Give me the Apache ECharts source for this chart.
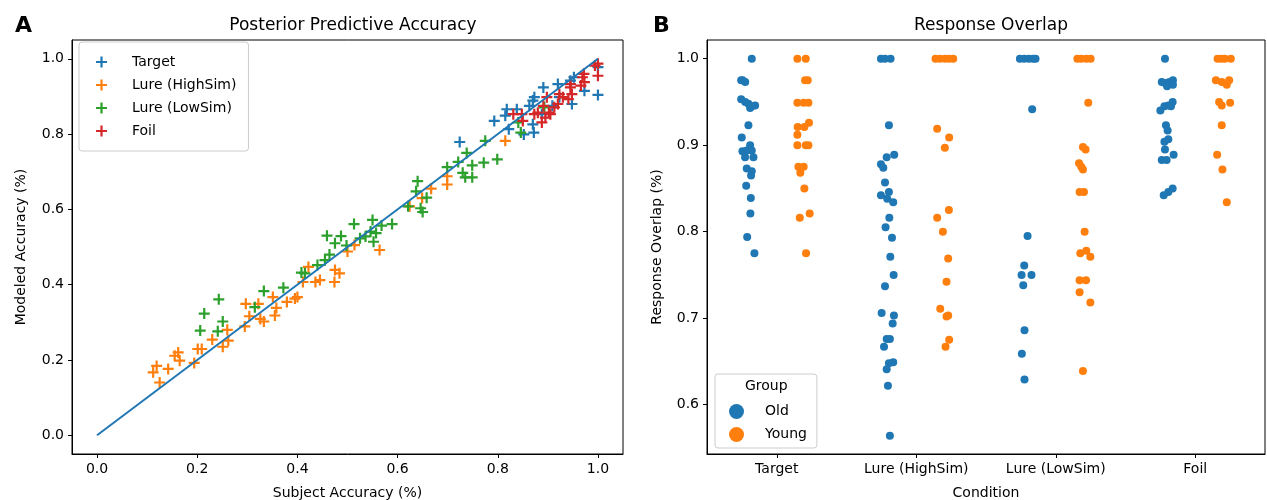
<!DOCTYPE html>
<html>
<head>
<meta charset="utf-8">
<script src="https://cdn.jsdelivr.net/npm/echarts@6/dist/echarts.min.js"></script>
<style>
  html, body { margin: 0; padding: 0; background: #fff; }
  #main { width: 1267px; height: 500px; }
</style>
</head>
<body>
<div id="main"></div>
<script>
  // panel A: [subject accuracy, modeled accuracy]
  const targetPts = [
    [0.724, 0.779], [0.793, 0.835], [0.818, 0.866], [0.815, 0.849], [0.822, 0.813],
    [0.838, 0.866], [0.852, 0.799], [0.872, 0.804], [0.870, 0.826], [0.863, 0.875],
    [0.870, 0.889], [0.873, 0.898], [0.891, 0.924], [0.920, 0.933], [0.909, 0.875],
    [0.923, 0.898], [0.945, 0.942], [0.948, 0.880], [0.952, 0.951], [0.973, 0.915],
    [1.0, 0.904], [1.0, 0.978], [0.888, 0.853]
  ];
  const lureHighPts = [
    [0.112, 0.167], [0.119, 0.184], [0.125, 0.140], [0.142, 0.176], [0.155, 0.211],
    [0.162, 0.220], [0.165, 0.198], [0.194, 0.192], [0.201, 0.229], [0.209, 0.229],
    [0.230, 0.254], [0.251, 0.235], [0.262, 0.251], [0.260, 0.280], [0.295, 0.289],
    [0.297, 0.349], [0.304, 0.316], [0.322, 0.349], [0.326, 0.309], [0.333, 0.302],
    [0.355, 0.318], [0.358, 0.338], [0.351, 0.367], [0.379, 0.354], [0.395, 0.363],
    [0.400, 0.367], [0.411, 0.407], [0.422, 0.447], [0.436, 0.407], [0.445, 0.412],
    [0.474, 0.407], [0.475, 0.439], [0.484, 0.430], [0.500, 0.488], [0.514, 0.505],
    [0.564, 0.492], [0.624, 0.608], [0.649, 0.630], [0.667, 0.655], [0.699, 0.688],
    [0.699, 0.666], [0.815, 0.782]
  ];
  const lureLowPts = [
    [0.206, 0.278], [0.214, 0.323], [0.243, 0.361], [0.241, 0.276], [0.251, 0.302],
    [0.315, 0.340], [0.333, 0.383], [0.372, 0.392], [0.408, 0.432], [0.415, 0.430],
    [0.440, 0.452], [0.455, 0.465], [0.464, 0.480], [0.459, 0.530], [0.475, 0.510],
    [0.487, 0.529], [0.498, 0.504], [0.513, 0.561], [0.525, 0.523], [0.536, 0.528],
    [0.546, 0.541], [0.550, 0.572], [0.552, 0.514], [0.557, 0.537], [0.568, 0.557],
    [0.589, 0.561], [0.621, 0.608], [0.637, 0.648], [0.640, 0.675], [0.646, 0.603],
    [0.650, 0.593], [0.658, 0.631], [0.699, 0.712], [0.721, 0.726], [0.738, 0.750],
    [0.730, 0.697], [0.735, 0.685], [0.749, 0.685], [0.749, 0.717], [0.772, 0.724],
    [0.775, 0.782], [0.799, 0.733], [0.846, 0.804], [0.841, 0.831], [0.893, 0.871]
  ];
  const foilPts = [
    [0.831, 0.853], [0.848, 0.853], [0.850, 0.835], [0.873, 0.853], [0.880, 0.857],
    [0.888, 0.831], [0.895, 0.844], [0.902, 0.857], [0.898, 0.898], [0.905, 0.853],
    [0.920, 0.880], [0.923, 0.906], [0.930, 0.898], [0.945, 0.924], [0.945, 0.933],
    [0.948, 0.906], [0.941, 0.893], [0.969, 0.951], [0.973, 0.938], [0.972, 0.960],
    [0.966, 0.929], [0.994, 0.982], [1.0, 0.955], [1.0, 0.987], [0.913, 0.871],
    [0.891, 0.875]
  ];
  const identityLine = [[0, 0], [1, 1]];
  const accTicks = [0, 0.2, 0.4, 0.6, 0.8, 1.0];

  // panel B: [offset from category centre, response overlap]
  const conditions = ['Target', 'Lure (HighSim)', 'Lure (LowSim)', 'Foil'];
  const overlapTicks = [0.6, 0.7, 0.8, 0.9, 1.0];
  const oldTarget = [
    [-0.179, 1.0], [-0.255, 0.975], [-0.226, 0.973], [-0.245, 0.975],
    [-0.255, 0.953], [-0.226, 0.950], [-0.203, 0.948], [-0.191, 0.943], [-0.155, 0.946], [-0.179, 0.945],
    [-0.203, 0.923], [-0.251, 0.909], [-0.191, 0.900], [-0.246, 0.893], [-0.215, 0.894], [-0.179, 0.894],
    [-0.227, 0.886], [-0.167, 0.886], [-0.215, 0.873], [-0.179, 0.870], [-0.184, 0.865],
    [-0.219, 0.853], [-0.186, 0.839], [-0.189, 0.821], [-0.212, 0.794], [-0.160, 0.775]
  ];
  const youngTarget = [
    [0.148, 1.0], [0.208, 1.0], [0.203, 0.975], [0.222, 0.975],
    [0.148, 0.949], [0.193, 0.949], [0.227, 0.949], [0.150, 0.921], [0.198, 0.921], [0.231, 0.926],
    [0.148, 0.912], [0.148, 0.900], [0.208, 0.900], [0.227, 0.900], [0.155, 0.875], [0.193, 0.875],
    [0.169, 0.868], [0.198, 0.850], [0.165, 0.816], [0.236, 0.821], [0.210, 0.775]
  ];
  const oldHighSim = [
    [-0.253, 1.0], [-0.224, 1.0], [-0.184, 1.0], [-0.196, 0.923], [-0.212, 0.886], [-0.158, 0.889],
    [-0.253, 0.878], [-0.236, 0.874], [-0.224, 0.857], [-0.253, 0.842], [-0.196, 0.846], [-0.208, 0.838],
    [-0.165, 0.834], [-0.193, 0.816], [-0.220, 0.805], [-0.174, 0.793], [-0.186, 0.771], [-0.162, 0.750],
    [-0.224, 0.737], [-0.248, 0.706], [-0.160, 0.703], [-0.169, 0.694], [-0.212, 0.676], [-0.189, 0.676],
    [-0.231, 0.667], [-0.165, 0.649], [-0.196, 0.648], [-0.212, 0.641], [-0.203, 0.622], [-0.189, 0.564]
  ];
  const youngHighSim = [
    [0.138, 1.0], [0.169, 1.0], [0.205, 1.0], [0.234, 1.0], [0.265, 1.0],
    [0.150, 0.919], [0.236, 0.909], [0.205, 0.897], [0.234, 0.825], [0.150, 0.816],
    [0.191, 0.800], [0.229, 0.769], [0.217, 0.742], [0.172, 0.711], [0.217, 0.702],
    [0.229, 0.703], [0.236, 0.675], [0.210, 0.667]
  ];
  const oldLowSim = [
    [-0.257, 1.0], [-0.226, 1.0], [-0.193, 1.0], [-0.162, 1.0], [-0.145, 1.0],
    [-0.169, 0.9415], [-0.202, 0.795], [-0.226, 0.761], [-0.245, 0.750], [-0.174, 0.750],
    [-0.233, 0.738], [-0.224, 0.686], [-0.243, 0.659], [-0.224, 0.629]
  ];
  const youngLowSim = [
    [0.155, 1.0], [0.183, 1.0], [0.219, 1.0], [0.250, 1.0], [0.233, 0.949],
    [0.195, 0.898], [0.214, 0.895], [0.167, 0.879], [0.183, 0.875], [0.195, 0.872],
    [0.171, 0.846], [0.202, 0.846], [0.207, 0.800], [0.176, 0.775], [0.219, 0.778],
    [0.248, 0.771], [0.171, 0.744], [0.217, 0.744], [0.171, 0.730], [0.248, 0.718],
    [0.195, 0.639]
  ];
  const oldFoil = [
    [-0.217, 1.0], [-0.240, 0.973], [-0.217, 0.972], [-0.186, 0.973], [-0.160, 0.975],
    [-0.202, 0.968], [-0.160, 0.970], [-0.250, 0.940], [-0.221, 0.945], [-0.193, 0.946],
    [-0.162, 0.950], [-0.174, 0.945], [-0.210, 0.923], [-0.198, 0.917], [-0.193, 0.907],
    [-0.221, 0.904], [-0.217, 0.895], [-0.155, 0.889], [-0.240, 0.883], [-0.205, 0.883],
    [-0.162, 0.850], [-0.193, 0.846], [-0.226, 0.842]
  ];
  const youngFoil = [
    [0.160, 1.0], [0.186, 1.0], [0.212, 1.0], [0.255, 1.0],
    [0.148, 0.975], [0.190, 0.973], [0.226, 0.970], [0.243, 0.975],
    [0.171, 0.950], [0.190, 0.946], [0.250, 0.949], [0.190, 0.923],
    [0.157, 0.889], [0.195, 0.872], [0.226, 0.834]
  ];
  const oldGroups = [oldTarget, oldHighSim, oldLowSim, oldFoil];
  const youngGroups = [youngTarget, youngHighSim, youngLowSim, youngFoil];

  const BLUE = '#1f77b4', ORANGE = '#ff7f0e', GREEN = '#2ca02c', RED = '#d62728';
  const PLUS = 'path://M4,0h2v4h4v2h-4v4h-2v-4h-4v-2h4z';
  const FONT = 'DejaVu Sans';

  // put every stripplot point at category index + its offset
  function strip(groups) {
    const out = [];
    groups.forEach((pts, ci) => pts.forEach(p => out.push([ci + p[0], p[1]])));
    return out;
  }

  function plusSeries(name, data, color) {
    return {
      name, type: 'scatter', xAxisIndex: 0, yAxisIndex: 0,
      data, symbol: PLUS, symbolSize: 11,
      itemStyle: { color, opacity: 1 }, z: 2
    };
  }

  const axisBase = {
    axisLine: { show: true, onZero: false, lineStyle: { color: '#000', width: 1 } },
    axisTick: { show: true, length: 4, lineStyle: { color: '#000' } },
    splitLine: { show: false },
    nameTextStyle: { fontFamily: FONT, fontSize: 14, color: '#000' }
  };
  const labelBase = { fontFamily: FONT, fontSize: 14, color: '#000' };

  const chart = echarts.init(document.getElementById('main'));
  chart.setOption({
    animation: false,
    backgroundColor: '#fff',
    title: [
      { text: 'Posterior Predictive Accuracy', left: 348, top: 12, textAlign: 'center',
        textStyle: { fontFamily: FONT, fontSize: 17, fontWeight: 'normal', color: '#000' } },
      { text: 'Response Overlap', left: 986, top: 12, textAlign: 'center',
        textStyle: { fontFamily: FONT, fontSize: 17, fontWeight: 'normal', color: '#000' } },
      { text: 'A', left: 10, top: 10,
        textStyle: { fontFamily: FONT, fontSize: 22, fontWeight: 'bold', color: '#000' } },
      { text: 'B', left: 648, top: 10,
        textStyle: { fontFamily: FONT, fontSize: 22, fontWeight: 'bold', color: '#000' } }
    ],
    grid: [
      { left: 72, top: 40, width: 551, height: 414, outerBoundsMode: 'none',
        show: true, borderColor: '#000', borderWidth: 1 },
      { left: 707, top: 40, width: 558, height: 414, outerBoundsMode: 'none',
        show: true, borderColor: '#000', borderWidth: 1 }
    ],
    legend: [
      {
        data: ['Target', 'Lure (HighSim)', 'Lure (LowSim)', 'Foil'],
        orient: 'vertical', left: 79, top: 42, itemGap: 9,
        itemWidth: 11, itemHeight: 11,
        padding: [13, 12, 13, 17],
        backgroundColor: '#fff', borderColor: '#ccc', borderWidth: 1, borderRadius: 3,
        textStyle: { fontFamily: FONT, fontSize: 14, color: '#000', padding: [0, 0, 0, 20] }
      },
      {
        data: ['Old', 'Young'],
        orient: 'vertical', left: 715, top: 374, itemGap: 8,
        itemWidth: 15, itemHeight: 15, icon: 'circle',
        padding: [30, 10, 6, 14],
        backgroundColor: '#fff', borderColor: '#ccc', borderWidth: 1, borderRadius: 3,
        textStyle: { fontFamily: FONT, fontSize: 14, color: '#000', padding: [0, 0, 0, 16] }
      }
    ],
    graphic: [
      { type: 'text', left: 745, top: 379, z: 100,
        style: { text: 'Group', font: '14px "DejaVu Sans"', fill: '#000' } }
    ],
    xAxis: [
      Object.assign({}, axisBase, {
        type: 'value', gridIndex: 0, min: -0.05, max: 1.05,
        name: 'Subject Accuracy (%)', nameLocation: 'middle', nameGap: 32,
        axisTick: Object.assign({}, axisBase.axisTick, { customValues: accTicks }),
        axisLabel: Object.assign({}, labelBase, { customValues: accTicks, margin: 8,
          formatter: v => v.toFixed(1) })
      }),
      Object.assign({}, axisBase, {
        type: 'value', gridIndex: 1, min: -0.5, max: 3.5,
        name: 'Condition', nameLocation: 'middle', nameGap: 32,
        axisTick: Object.assign({}, axisBase.axisTick, { customValues: [0, 1, 2, 3] }),
        axisLabel: Object.assign({}, labelBase, { customValues: [0, 1, 2, 3], margin: 8,
          formatter: v => conditions[Math.round(v)] })
      })
    ],
    yAxis: [
      Object.assign({}, axisBase, {
        type: 'value', gridIndex: 0, min: -0.05, max: 1.05,
        name: 'Modeled Accuracy (%)', nameLocation: 'middle', nameGap: 44,
        axisTick: Object.assign({}, axisBase.axisTick, { customValues: accTicks }),
        axisLabel: Object.assign({}, labelBase, { customValues: accTicks, margin: 8,
          formatter: v => v.toFixed(1) })
      }),
      Object.assign({}, axisBase, {
        type: 'value', gridIndex: 1, min: 0.543, max: 1.0216,
        name: 'Response Overlap (%)', nameLocation: 'middle', nameGap: 43,
        axisTick: Object.assign({}, axisBase.axisTick, { customValues: overlapTicks }),
        axisLabel: Object.assign({}, labelBase, { customValues: overlapTicks, margin: 8,
          formatter: v => v.toFixed(1) })
      })
    ],
    series: [
      plusSeries('Target', targetPts, BLUE),
      plusSeries('Lure (HighSim)', lureHighPts, ORANGE),
      plusSeries('Lure (LowSim)', lureLowPts, GREEN),
      plusSeries('Foil', foilPts, RED),
      {
        name: 'identity', type: 'line', xAxisIndex: 0, yAxisIndex: 0,
        data: identityLine, showSymbol: false, z: 5,
        lineStyle: { color: BLUE, width: 2 }
      },
      {
        name: 'Old', type: 'scatter', xAxisIndex: 1, yAxisIndex: 1,
        data: strip(oldGroups), symbol: 'circle', symbolSize: 8,
        itemStyle: { color: BLUE, opacity: 1 }
      },
      {
        name: 'Young', type: 'scatter', xAxisIndex: 1, yAxisIndex: 1,
        data: strip(youngGroups), symbol: 'circle', symbolSize: 8,
        itemStyle: { color: ORANGE, opacity: 1 }
      }
    ]
  });
</script>
</body>
</html>
